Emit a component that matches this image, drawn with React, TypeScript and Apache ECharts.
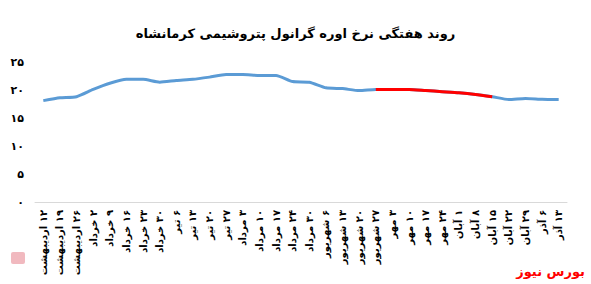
import React, { useEffect, useRef } from "react";
import * as echarts from "echarts";

const TITLE = "روند هفتگی نرخ اوره گرانول پتروشیمی کرمانشاه";
const SOURCE = "بورس نیوز";

const categories: string[] = [
  "۱۲ اردیبهشت", "۱۹ اردیبهشت", "۲۶ اردیبهشت", "۲ خرداد", "۹ خرداد", "۱۶ خرداد",
  "۲۳ خرداد", "۳۰ خرداد", "۶ تیر", "۱۳ تیر", "۲۰ تیر", "۲۷ تیر", "۳ مرداد",
  "۱۰ مرداد", "۱۷ مرداد", "۲۴ مرداد", "۳۰ مرداد", "۶ شهریور", "۱۳ شهریور",
  "۲۰ شهریور", "۲۷ شهریور", "۳ مهر", "۱۰ مهر", "۱۷ مهر", "۲۴ مهر", "۱ آبان",
  "۸ آبان", "۱۵ آبان", "۲۲ آبان", "۲۹ آبان", "۶ آذر", "۱۳ آذر",
];

const values: number[] = [
  18.1, 18.6, 18.8, 20.1, 21.2, 21.9, 21.9, 21.4, 21.7, 21.9, 22.3, 22.75,
  22.75, 22.6, 22.6, 21.5, 21.4, 20.4, 20.25, 19.9, 20.1, 20.1, 20.1, 19.9,
  19.7, 19.5, 19.2, 18.8, 18.3, 18.5, 18.35, 18.3,
];

// highlighted (red) stretch: first and last category index
const highlightRange: number[] = [20, 27];

const yTicks: number[] = [0, 5, 10, 15, 20, 25];

const toPersian = (s: string | number) =>
  String(s).replace(/[0-9]/g, (d) => "۰۱۲۳۴۵۶۷۸۹"[Number(d)]);

export default function App() {
  const ref = useRef<HTMLDivElement>(null);
  useEffect(() => {
    document.body.style.margin = "0";
    if (!ref.current) return;
    const chart = echarts.init(ref.current, null, { renderer: "svg" });
    const redData = values.map((v, i) =>
      i >= highlightRange[0] && i <= highlightRange[1] ? v : null
    );
    const font = "DejaVu Sans, Arial, sans-serif";
    chart.setOption({
      animation: false,
      backgroundColor: "#ffffff",
      title: {
        text: TITLE,
        left: "center",
        top: 22,
        textStyle: { fontSize: 13, fontWeight: "bold", color: "#000", fontFamily: font },
      },
      graphic: [
        {
          type: "text",
          right: 6,
          top: 265,
          style: {
            text: SOURCE,
            fill: "#ff0000",
            font: "bold 13px DejaVu Sans, Arial, sans-serif",
          },
        },
        {
          type: "rect",
          left: 11,
          top: 252,
          shape: { width: 14, height: 12, r: 2 },
          style: { fill: "#e88a94", opacity: 0.6 },
        },
      ],
      grid: { left: 35, right: 24, top: 62, bottom: 82, containLabel: false },
      xAxis: {
        type: "category",
        data: categories,
        boundaryGap: true,
        axisLine: { lineStyle: { color: "#d9d9d9", width: 1 } },
        axisTick: { show: false },
        axisLabel: {
          interval: 0,
          rotate: 90,
          margin: 8,
          fontSize: 10,
          fontWeight: "bold",
          color: "#000",
          fontFamily: font,
          formatter: (v: string) => "\u200F" + v,
        },
      },
      yAxis: {
        type: "value",
        min: yTicks[0],
        max: yTicks[yTicks.length - 1],
        interval: yTicks[1] - yTicks[0],
        splitLine: { show: false },
        axisLine: { show: false },
        axisTick: { show: false },
        axisLabel: {
          formatter: (v: number) => toPersian(v),
          fontSize: 11,
          fontWeight: "bold",
          color: "#000",
          margin: 11,
          fontFamily: font,
        },
      },
      series: [
        {
          type: "line",
          data: values,
          smooth: 0.2,
          symbol: "none",
          lineStyle: { color: "#5b9bd5", width: 3 },
          z: 2,
        },
        {
          type: "line",
          data: redData,
          smooth: 0.2,
          symbol: "none",
          connectNulls: false,
          lineStyle: { color: "#ff0000", width: 3 },
          z: 3,
        },
      ],
    });
    return () => chart.dispose();
  }, []);
  return <div ref={ref} style={{ width: 591, height: 284 }} />;
}
